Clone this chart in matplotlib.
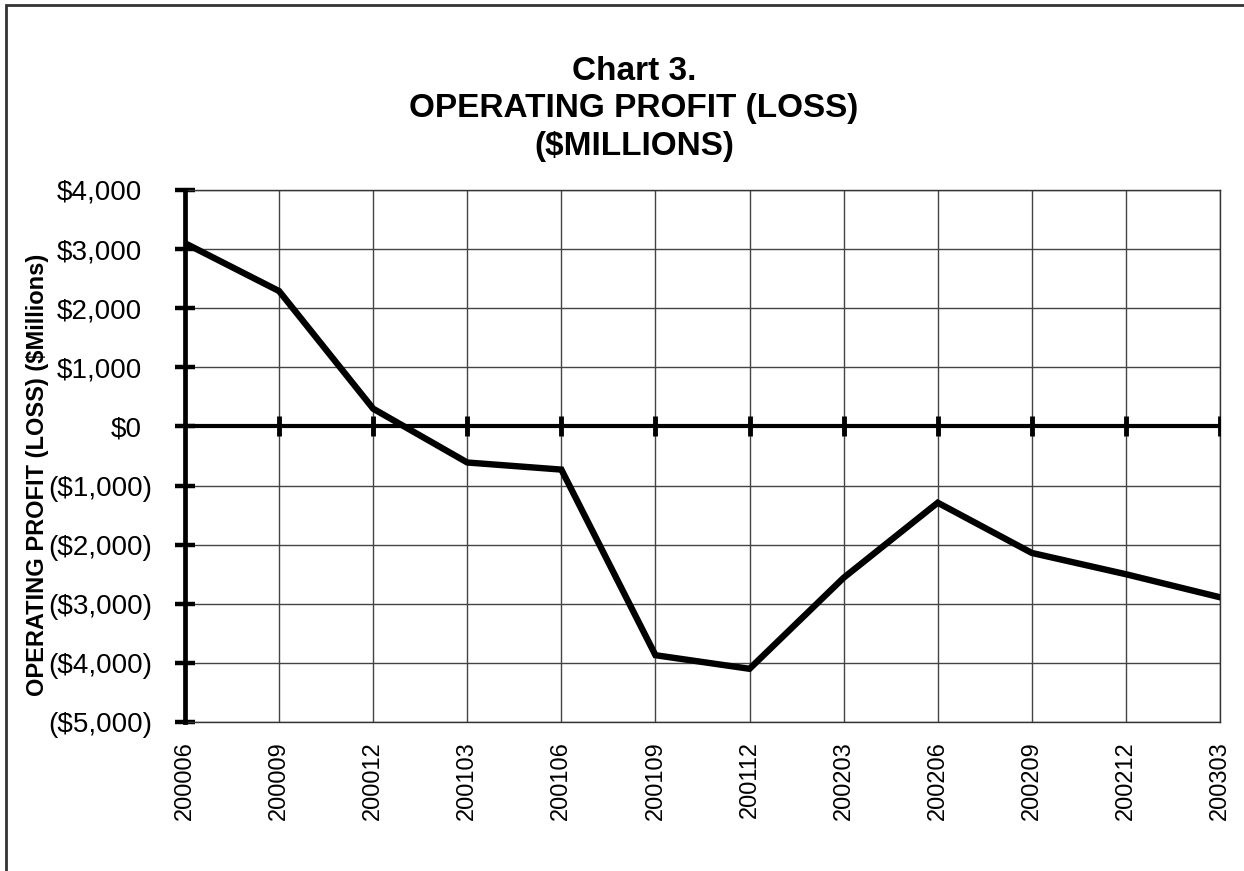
import numpy as np
import matplotlib.pyplot as plt
from matplotlib.patches import Rectangle

plt.rcParams['font.family'] = ['Liberation Sans', 'DejaVu Sans']

# quarters (yyyymm) and operating profit in $ millions
quarters = ['200006', '200009', '200012', '200103', '200106', '200109',
            '200112', '200203', '200206', '200209', '200212', '200303']
profit = [3100, 2290, 300, -610, -730, -3870,
          -4100, -2560, -1290, -2140, -2500, -2890]
y_ticks = [4000, 3000, 2000, 1000, 0, -1000, -2000, -3000, -4000, -5000]


def money(v):
    if v < 0:
        return '(${:,.0f})'.format(-v)
    return '${:,.0f}'.format(v)


fig = plt.figure(figsize=(12.44, 8.71), dpi=100)
ax = fig.add_axes([185 / 1244, 1 - 722 / 871, (1220 - 185) / 1244, (722 - 190) / 871])

x = np.arange(len(quarters))

# grid
ax.set_axisbelow(True)
ax.grid(True, color='#444444', linewidth=1.0)

# zero line with its tick marks
ax.axhline(0, color='black', linewidth=3.0, zorder=3)
ax.plot(x[1:], np.zeros(len(x) - 1), linestyle='none', marker='|',
        markersize=14, markeredgewidth=3.5, color='black', zorder=3)

# the series
ax.plot(x, profit, color='black', linewidth=4.6, solid_joinstyle='miter', zorder=4)

ax.set_xlim(0, len(quarters) - 1)
ax.set_ylim(-5000, 4000)
ax.set_xticks(x)
ax.set_xticklabels(quarters, rotation=90, fontsize=17)
ax.set_yticks(y_ticks)
ax.set_yticklabels([money(v) for v in y_ticks], fontsize=20)

ax.tick_params(axis='x', length=0, pad=14)
ax.tick_params(axis='y', direction='inout', length=15, width=3.2)
# numbers in brackets hang out to the right, like the spreadsheet does it
for v, tick in zip(y_ticks, ax.yaxis.get_major_ticks()):
    tick.set_pad(16 if v < 0 else 23.5)

for side in ['top', 'right', 'bottom']:
    ax.spines[side].set_linewidth(1.0)
    ax.spines[side].set_color('#333333')
ax.spines['left'].set_linewidth(3.4)
ax.spines['left'].set_zorder(5)

fig.text(38 / 1244, 1 - 475 / 871, 'OPERATING PROFIT (LOSS) ($Millions)',
         rotation=90, ha='center', va='center', fontsize=17, fontweight='bold')

fig.text(634 / 1244, 1 - 109 / 871,
         'Chart 3.\nOPERATING PROFIT (LOSS)\n($MILLIONS)',
         ha='center', va='center', fontsize=24, fontweight='bold',
         linespacing=1.25)

# outer border (runs off the right and bottom edges)
fig.patches.append(Rectangle((6 / 1244, -0.05), 1.2, 1 - 5 / 871 + 0.05,
                             transform=fig.transFigure, fill=False,
                             edgecolor='#333333', linewidth=2))

fig.savefig('out.png', dpi=100)
